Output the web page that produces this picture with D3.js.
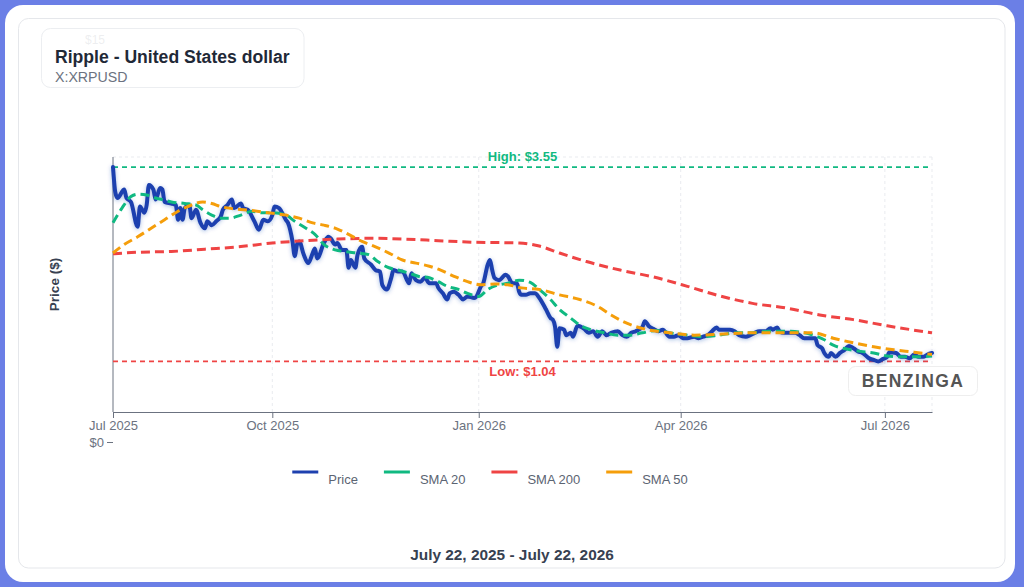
<!DOCTYPE html>
<html>
<head>
<meta charset="utf-8">
<script src="https://cdn.jsdelivr.net/npm/d3@7"></script>
<style>
  html, body { margin: 0; padding: 0; background: #fff; }
  svg { display: block; font-family: "Liberation Sans", Arial, Helvetica, sans-serif; }
</style>
</head>
<body>
<svg id="chart" width="1024" height="587"></svg>
<script>
// ---- data (day offset from start date, price in USD) ----
const startDate = new Date(2025, 6, 22);
const endDate = new Date(2026, 6, 22);

const priceSeries = [
  [0,3.55],[1,3.23],[2,3.15],[5,3.26],[6,3.15],[8,3.10],[11,2.78],[12,3.04],[14,2.96],[15,3.06],
  [16,3.32],[18,3.26],[19,3.13],[21,3.28],[22,3.26],[23,3.10],[26,3.08],[28,3.06],[29,2.87],[30,3.02],
  [31,2.87],[32,3.02],[34,3.06],[35,2.89],[37,3.00],[39,2.83],[41,2.76],[42,2.85],[44,2.80],[46,2.85],
  [48,2.91],[49,3.00],[51,3.06],[53,3.13],[54,3.02],[57,3.08],[58,3.02],[60,3.00],[63,2.85],[65,2.74],
  [67,2.87],[69,2.85],[71,2.93],[72,3.04],[74,3.02],[75,2.98],[77,2.87],[78,2.83],[80,2.59],[81,2.40],
  [82,2.55],[83,2.59],[85,2.42],[87,2.31],[89,2.44],[90,2.50],[91,2.37],[94,2.57],[96,2.65],[97,2.63],
  [99,2.55],[100,2.57],[102,2.48],[104,2.48],[105,2.25],[106,2.35],[108,2.25],[109,2.42],[111,2.52],[112,2.37],
  [115,2.29],[117,2.22],[119,2.20],[120,2.03],[122,1.97],[124,2.12],[125,2.22],[127,2.20],[129,2.20],[132,2.05],
  [133,2.18],[135,2.09],[137,2.07],[139,2.12],[141,2.05],[144,2.05],[145,1.99],[147,1.92],[149,1.84],[150,1.92],
  [152,1.94],[154,1.90],[156,1.84],[158,1.88],[161,1.86],[162,1.88],[164,2.01],[165,2.05],[167,2.29],[168,2.35],
  [169,2.22],[170,2.12],[172,2.09],[175,2.16],[176,2.14],[178,2.05],[180,2.05],[181,1.94],[182,1.90],[184,1.90],
  [186,1.92],[188,1.92],[190,1.86],[193,1.71],[195,1.60],[196,1.58],[197,1.49],[198,1.23],[199,1.47],[201,1.45],
  [202,1.38],[204,1.41],[205,1.36],[207,1.50],[210,1.46],[212,1.41],[214,1.43],[216,1.36],[218,1.43],[220,1.38],
  [222,1.41],[225,1.43],[227,1.38],[229,1.36],[231,1.41],[233,1.43],[236,1.49],[237,1.56],[239,1.49],[241,1.46],
  [243,1.43],[245,1.45],[248,1.36],[250,1.36],[252,1.38],[254,1.34],[256,1.34],[259,1.36],[261,1.34],[263,1.36],
  [265,1.38],[267,1.43],[269,1.48],[270,1.45],[273,1.45],[275,1.45],[277,1.43],[279,1.38],[282,1.36],[284,1.38],
  [286,1.41],[288,1.43],[291,1.43],[293,1.47],[294,1.45],[296,1.48],[297,1.43],[299,1.41],[302,1.41],[304,1.41],
  [306,1.38],[308,1.34],[311,1.34],[313,1.34],[314,1.25],[316,1.21],[317,1.15],[319,1.10],[320,1.15],[322,1.10],
  [324,1.15],[326,1.19],[328,1.24],[330,1.21],[332,1.17],[334,1.15],[337,1.08],[339,1.06],[341,1.04],[343,1.07],
  [345,1.10],[346,1.16],[349,1.15],[351,1.10],[353,1.10],[355,1.08],[357,1.13],[359,1.10],[361,1.10],[363,1.13],
  [365,1.15]
];

const sma20Series = [
  [0,2.83],[4,3.02],[8,3.17],[11,3.20],[15,3.19],[19,3.15],[22,3.13],[26,3.10],[32,3.08],[37,3.06],
  [40,3.00],[44,2.93],[48,2.89],[52,2.89],[57,2.93],[62,2.98],[66,2.96],[71,2.96],[77,2.93],[81,2.85],
  [86,2.76],[90,2.68],[94,2.55],[99,2.48],[103,2.46],[109,2.44],[114,2.42],[118,2.33],[123,2.25],[127,2.22],
  [132,2.18],[136,2.14],[141,2.12],[145,2.07],[149,2.01],[154,1.97],[158,1.92],[163,1.88],[167,1.97],[172,2.03],
  [176,2.05],[181,2.09],[186,2.06],[190,1.97],[195,1.84],[199,1.71],[204,1.60],[208,1.51],[213,1.45],[219,1.41],
  [225,1.38],[230,1.38],[236,1.41],[242,1.44],[248,1.41],[256,1.38],[263,1.36],[270,1.38],[278,1.41],[285,1.41],
  [292,1.43],[300,1.43],[308,1.41],[312,1.38],[317,1.32],[321,1.25],[327,1.20],[333,1.17],[339,1.15],[345,1.11],
  [351,1.10],[357,1.10],[365,1.11]
];

const sma200Series = [
  [0,2.43],[11,2.45],[26,2.46],[41,2.49],[56,2.52],[71,2.57],[86,2.60],[100,2.62],[115,2.63],[130,2.62],
  [145,2.60],[160,2.58],[181,2.57],[190,2.53],[199,2.44],[211,2.33],[226,2.22],[241,2.13],[256,2.01],[270,1.89],
  [285,1.79],[300,1.73],[315,1.64],[330,1.58],[345,1.50],[365,1.41]
];

const sma50Series = [
  [0,2.44],[5,2.55],[11,2.65],[17,2.76],[23,2.87],[29,2.98],[35,3.06],[40,3.10],[44,3.08],[48,3.04],
  [54,3.01],[62,2.99],[69,2.96],[77,2.93],[83,2.89],[89,2.83],[94,2.80],[100,2.75],[105,2.68],[111,2.59],
  [117,2.52],[123,2.44],[129,2.35],[135,2.31],[141,2.27],[146,2.22],[152,2.14],[158,2.07],[164,2.03],[170,2.04],
  [176,2.03],[182,1.99],[190,1.97],[199,1.90],[208,1.84],[216,1.75],[222,1.64],[227,1.56],[233,1.49],[240,1.44],
  [248,1.41],[259,1.38],[270,1.39],[285,1.41],[300,1.41],[312,1.41],[321,1.34],[330,1.28],[339,1.23],[348,1.19],
  [357,1.16],[365,1.13]
];

const highValue = 3.55;
const lowValue = 1.04;
const yMax = 3.68;
const xTickDates = [startDate, new Date(2025, 9, 1), new Date(2026, 0, 1), new Date(2026, 3, 1), new Date(2026, 6, 1)];
const yTickValues = [0];

const seriesNames = ["Price", "SMA 20", "SMA 200", "SMA 50"];
const seriesColors = ["#1e40af", "#10b981", "#ef4444", "#f59e0b"];

// ---- layout ----
const plot = { left: 113, right: 932, top: 157, axisY: 412, zeroY: 442 };

const svg = d3.select("#chart");

const toDate = (d) => d3.timeDay.offset(startDate, d);

// frame
svg.append("rect").attr("width", 1024).attr("height", 587).attr("fill", "#6b7fe6");
svg.append("rect")
  .attr("x", 5).attr("y", 5).attr("width", 1010).attr("height", 577)
  .attr("rx", 18).attr("fill", "#fff");
svg.append("rect")
  .attr("x", 18.5).attr("y", 18.5).attr("width", 986.5).attr("height", 549.5)
  .attr("rx", 10).attr("fill", "#fff").attr("stroke", "#e5e7eb");

const defs = svg.append("defs");
defs.append("filter").attr("id", "glow")
  .attr("x", "-5%").attr("y", "-10%").attr("width", "110%").attr("height", "120%")
  .append("feDropShadow")
  .attr("dx", 0).attr("dy", 1).attr("stdDeviation", 2)
  .attr("flood-color", "#1e40af").attr("flood-opacity", 0.35);

// scales
const xScale = d3.scaleTime().domain([startDate, endDate]).range([plot.left, plot.right]);
const yScale = d3.scaleLinear().domain([0, yMax]).range([plot.zeroY, plot.top]);

// grid
const grid = svg.append("g").attr("stroke", "#e9ebef").attr("stroke-dasharray", "3 3");
grid.selectAll("line.vgrid")
  .data(xTickDates.slice(1).concat([endDate]))
  .join("line")
  .attr("class", "vgrid")
  .attr("x1", d => xScale(d)).attr("x2", d => xScale(d))
  .attr("y1", yScale(yMax)).attr("y2", plot.axisY);
grid.append("line")
  .attr("x1", plot.left).attr("x2", plot.right)
  .attr("y1", yScale(yMax)).attr("y2", yScale(yMax));

// x axis
const xAxis = svg.append("g")
  .attr("transform", `translate(0,${plot.axisY})`)
  .call(d3.axisBottom(xScale).tickValues(xTickDates).tickFormat(d3.timeFormat("%b %Y")).tickSizeOuter(0));
xAxis.select(".domain").attr("stroke", "#6b7280");
xAxis.selectAll(".tick line").attr("stroke", "#6b7280");
xAxis.selectAll(".tick text").attr("fill", "#6b7280").attr("font-size", 13)
  .attr("font-family", "Liberation Sans, Arial, sans-serif");

// y axis
const yAxis = svg.append("g")
  .attr("transform", `translate(${plot.left},0)`)
  .call(d3.axisLeft(yScale).tickValues(yTickValues).tickFormat(d => "$" + d).tickSizeOuter(0));
yAxis.select(".domain").remove();
yAxis.selectAll(".tick line").attr("stroke", "#6b7280");
yAxis.selectAll(".tick text").attr("fill", "#6b7280").attr("font-size", 13)
  .attr("font-family", "Liberation Sans, Arial, sans-serif");
svg.append("line")
  .attr("x1", plot.left).attr("x2", plot.left)
  .attr("y1", yScale(yMax)).attr("y2", plot.axisY)
  .attr("stroke", "#6b7280");

svg.append("text")
  .attr("transform", `translate(59,${(plot.top + plot.axisY) / 2}) rotate(-90)`)
  .attr("text-anchor", "middle")
  .attr("font-size", 13.5).attr("font-weight", "bold").attr("fill", "#374151")
  .text("Price ($)");

// high / low reference lines
const midX = (plot.left + plot.right) / 2;
svg.append("line")
  .attr("x1", plot.left).attr("x2", plot.right)
  .attr("y1", yScale(highValue)).attr("y2", yScale(highValue))
  .attr("stroke", "#10b981").attr("stroke-width", 1.8).attr("stroke-dasharray", "5 4");
svg.append("text")
  .attr("x", midX).attr("y", yScale(highValue) - 6)
  .attr("text-anchor", "middle").attr("font-size", 13).attr("font-weight", "bold")
  .attr("fill", "#10b981").text(`High: $${highValue.toFixed(2)}`);
svg.append("line")
  .attr("x1", plot.left).attr("x2", plot.right)
  .attr("y1", yScale(lowValue)).attr("y2", yScale(lowValue))
  .attr("stroke", "#ef4444").attr("stroke-width", 1.8).attr("stroke-dasharray", "5 4");
svg.append("text")
  .attr("x", midX).attr("y", yScale(lowValue) + 15)
  .attr("text-anchor", "middle").attr("font-size", 13).attr("font-weight", "bold")
  .attr("fill", "#ef4444").text(`Low: $${lowValue.toFixed(2)}`);

// lines
const line = d3.line()
  .x(d => xScale(toDate(d[0])))
  .y(d => yScale(d[1]))
  .curve(d3.curveMonotoneX);

svg.append("path")
  .datum(priceSeries)
  .attr("d", line)
  .attr("fill", "none")
  .attr("stroke", seriesColors[0])
  .attr("stroke-width", 4)
  .attr("stroke-linejoin", "round")
  .attr("stroke-linecap", "round")
  .attr("filter", "url(#glow)");

[sma20Series, sma200Series, sma50Series].forEach((series, i) => {
  svg.append("path")
    .datum(series)
    .attr("d", line)
    .attr("fill", "none")
    .attr("stroke", seriesColors[i + 1])
    .attr("stroke-width", 3)
    .attr("stroke-dasharray", "9 5");
});

// legend
const legend = svg.append("g").attr("transform", "translate(0,472)");
let legendX = 0;
const legendItems = legend.selectAll("g").data(seriesNames).join("g");
legendItems.append("line")
  .attr("x1", 0).attr("x2", 26).attr("y1", 0).attr("y2", 0)
  .attr("stroke", (d, i) => seriesColors[i]).attr("stroke-width", 3);
legendItems.append("text")
  .attr("x", 36).attr("y", 12)
  .attr("font-size", 13).attr("fill", "#5b6472")
  .text(d => d);
legendItems.each(function () {
  const w = 36 + d3.select(this).select("text").node().getComputedTextLength();
  d3.select(this).attr("transform", `translate(${legendX},0)`);
  legendX += w + 26;
});
legend.attr("transform", `translate(${490 - (legendX - 26) / 2},472)`);

// title box (a stray $15 tick label peeks faintly through it)
svg.append("text")
  .attr("x", 105).attr("y", 44).attr("text-anchor", "end")
  .attr("font-size", 12).attr("fill", "#6b7280").text("$15");
svg.append("rect")
  .attr("x", 41.5).attr("y", 28.5).attr("width", 262.5).attr("height", 59)
  .attr("rx", 9).attr("fill", "#fff").attr("fill-opacity", 0.88)
  .attr("stroke", "#eceef1");
svg.append("text")
  .attr("x", 55).attr("y", 63)
  .attr("font-size", 17.6).attr("font-weight", "bold").attr("fill", "#1f2937")
  .text("Ripple - United States dollar");
svg.append("text")
  .attr("x", 55).attr("y", 81.5)
  .attr("font-size", 14.2).attr("fill", "#6b7280")
  .text("X:XRPUSD");

// watermark
svg.append("rect")
  .attr("x", 848.5).attr("y", 366.5).attr("width", 129).attr("height", 29)
  .attr("rx", 7).attr("fill", "#fff").attr("fill-opacity", 0.92)
  .attr("stroke", "#eeeeee");
svg.append("text")
  .attr("x", 913).attr("y", 387)
  .attr("text-anchor", "middle")
  .attr("font-size", 17.5).attr("font-weight", "bold").attr("letter-spacing", 1.4)
  .attr("fill", "#555555")
  .text("BENZINGA");

// date range footer
svg.append("text")
  .attr("x", 512).attr("y", 560)
  .attr("text-anchor", "middle")
  .attr("font-size", 15.4).attr("font-weight", "bold").attr("fill", "#374151")
  .text("July 22, 2025 - July 22, 2026");
</script>
</body>
</html>
